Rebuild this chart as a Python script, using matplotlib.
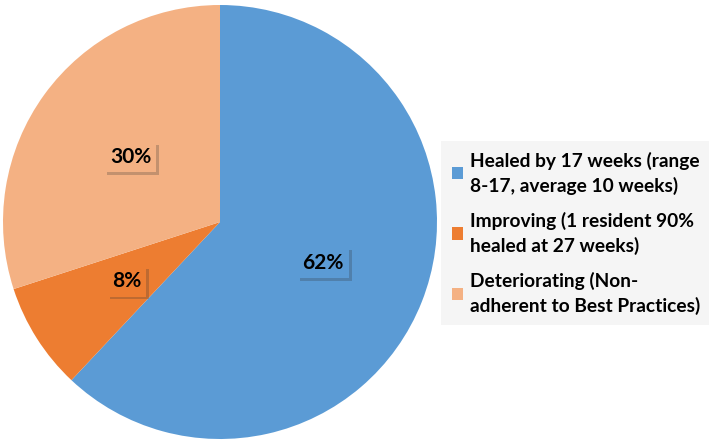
import matplotlib
matplotlib.use("Agg")
import matplotlib.pyplot as plt
from matplotlib.patches import Patch
import matplotlib.patheffects as pe

labels = ["Healed by 17 weeks (range\n8-17, average 10 weeks)",
          "Improving (1 resident 90%\nhealed at 27 weeks)",
          "Deteriorating (Non-\nadherent to Best Practices)"]
values = [62, 8, 30]
colors = ["#5B9BD5", "#ED7D31", "#F4B183"]

plt.rcParams['font.family'] = ['Lato', 'DejaVu Sans']

fig = plt.figure(figsize=(7.09, 4.45), dpi=100)
ax = fig.add_axes([3/709, 6/445, 434/709, 434/445])
wedges, texts, autotexts = ax.pie(values, colors=colors, startangle=90, counterclock=False,
                                  autopct=lambda p: f"{p:.0f}%", pctdistance=0.51,
                                  textprops=dict(fontsize=15, fontweight='bold', color='black'))
for t, c in zip(autotexts, colors):
    t.set_bbox(dict(boxstyle='square,pad=0.25', facecolor=c, edgecolor='none'))
    t.get_bbox_patch().set_path_effects([pe.SimplePatchShadow(offset=(2, -2), shadow_rgbFace='#333333', alpha=0.25), pe.Normal()])
ax.set_xlim(-1, 1)
ax.set_ylim(-1, 1)
ax.set_aspect('equal')

handles = [Patch(facecolor=c, edgecolor='none') for c in colors]
leg = fig.legend(handles, labels, loc='upper left', bbox_to_anchor=(441/709, 1 - 141/445),
                 frameon=True, fancybox=False, facecolor='#F5F5F5', edgecolor='none',
                 prop=dict(family=['Lato', 'DejaVu Sans'], weight='bold', size=13.8),
                 handlelength=0.6, handleheight=0.6, handletextpad=0.35, labelspacing=0.9,
                 borderpad=0.55, borderaxespad=0, framealpha=1)
for t in leg.get_texts():
    t.set_linespacing(1.45)

fig.savefig("out.png", dpi=100)
